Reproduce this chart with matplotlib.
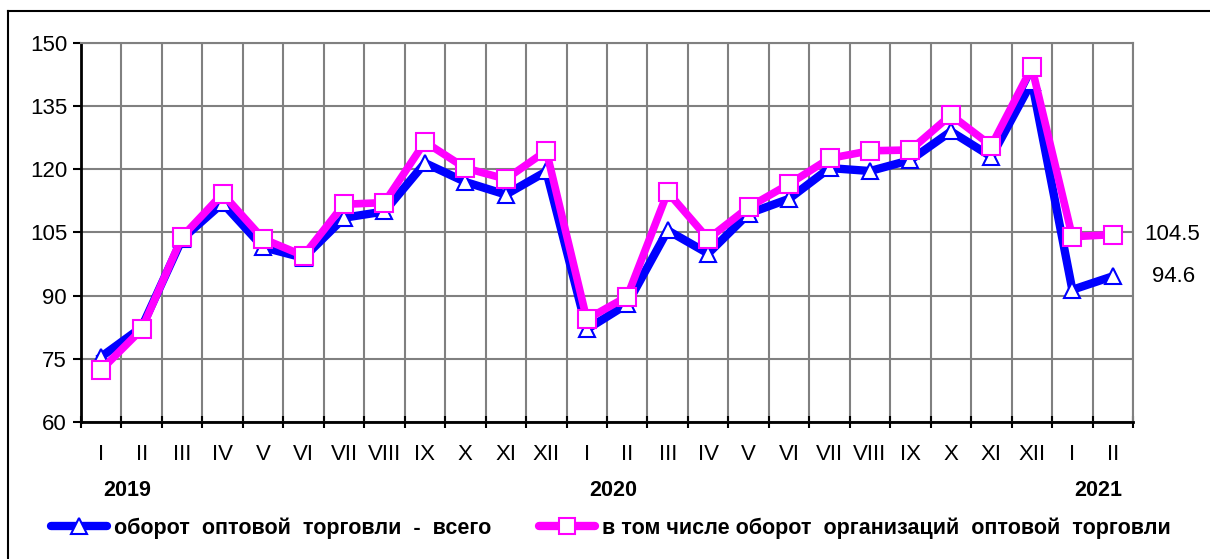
import numpy as np
import matplotlib.pyplot as plt
from matplotlib.lines import Line2D

plt.rcParams['font.family'] = ['Liberation Sans', 'DejaVu Sans']

months = ['I', 'II', 'III', 'IV', 'V', 'VI', 'VII', 'VIII', 'IX', 'X', 'XI', 'XII',
          'I', 'II', 'III', 'IV', 'V', 'VI', 'VII', 'VIII', 'IX', 'X', 'XI', 'XII',
          'I', 'II']
years = ['2019', '2020', '2021']
year_start = [0, 12, 24]

total = [75.5, 82.5, 103.5, 112.0, 101.5, 99.0, 108.5, 110.0, 121.5, 117.0, 114.0, 119.5,
         82.0, 88.0, 105.5, 100.0, 109.5, 113.0, 120.3, 119.6, 122.2, 129.0, 123.0, 140.8,
         91.4, 94.6]
orgs = [72.4, 82.0, 104.0, 114.2, 103.5, 99.5, 111.7, 112.1, 126.5, 120.3, 117.7, 124.4,
        84.4, 89.8, 114.6, 103.5, 111.0, 116.5, 122.6, 124.4, 124.6, 132.9, 125.6, 144.2,
        104.0, 104.5]
labels = ['оборот  оптовой  торговли  -  всего',
          'в том числе оборот  организаций  оптовой  торговли']

W, H = 1210, 559
fig = plt.figure(figsize=(W / 100, H / 100), dpi=100)
ax = fig.add_axes([81 / W, 1 - 422 / H, (1133 - 81) / W, (422 - 43) / H])

x = np.arange(len(months))
ax.plot(x, total, color='#0000ff', lw=6, marker='^', ms=12, mfc='white',
        mec='#0000ff', mew=1.5, zorder=3)
ax.plot(x, orgs, color='#ff00ff', lw=5.5, marker='s', ms=13, mfc='white',
        mec='#ff00ff', mew=1.5, zorder=4)

ax.set_xlim(-0.5, len(months) - 0.5)
ax.set_ylim(60, 150)
ax.set_yticks(np.arange(60, 151, 15))
ax.set_xticks(x)
ax.set_xticklabels(months)
ax.set_xticks(np.arange(-0.5, len(months), 1), minor=True)
ax.tick_params(axis='x', which='major', length=0, pad=16, labelsize=16)
ax.tick_params(axis='x', which='minor', length=8, direction='inout', width=1.5)
ax.tick_params(axis='y', length=6, width=1.5, labelsize=16, pad=4)

ax.grid(True, which='minor', axis='x', color='#808080', lw=1.5)
ax.grid(True, which='major', axis='y', color='#808080', lw=1.5)
ax.set_axisbelow(True)
for s in ['top', 'right']:
    ax.spines[s].set_color('#808080')
    ax.spines[s].set_linewidth(1.5)
for s in ['left', 'bottom']:
    ax.spines[s].set_linewidth(2)

ax.text(len(months) - 1 + 0.78, orgs[-1], '104.5', fontsize=16, va='center', ha='left')
ax.text(len(months) - 1 + 0.98, total[-1], '94.6', fontsize=16, va='center', ha='left')

tr = ax.get_xaxis_transform()
for yr, i in zip(years, year_start):
    ax.text(i + 0.05, -0.18, yr, transform=tr, fontsize=15.5, fontweight='bold',
            ha='left', va='center')

h1 = Line2D([], [], color='#0000ff', lw=6, marker='^', ms=11, mfc='white',
            mec='#0000ff', mew=1.5, solid_capstyle='round')
h2 = Line2D([], [], color='#ff00ff', lw=6, marker='s', ms=12, mfc='white',
            mec='#ff00ff', mew=1.5, solid_capstyle='round')
fig.legend([h1, h2], labels, loc='center', bbox_to_anchor=(0.505, 1 - 528 / H),
           ncol=2, frameon=False, handlelength=2.6, handletextpad=0.35,
           columnspacing=2.2, prop={'size': 15.5, 'weight': 'bold'})

fig.add_artist(Line2D([8 / W, 8 / W], [0, 1 - 11 / H], color='black', lw=1.5))
fig.add_artist(Line2D([8 / W, 1], [1 - 11 / H, 1 - 11 / H], color='black', lw=1.5))

fig.savefig('out.png', dpi=100)
